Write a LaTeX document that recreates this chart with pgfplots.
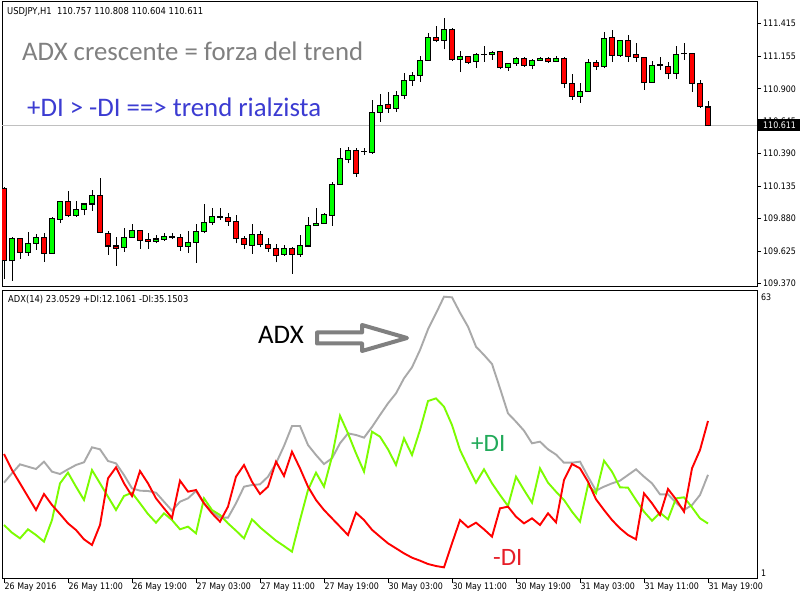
\documentclass[border=0pt]{standalone}
\usepackage{fontspec}
\setmainfont{DejaVu Sans}[FakeStretch=0.88]
\newfontfamily\calfont{Carlito}
\usepackage{pgfplots}
\usepackage{pgfplotstable}
\pgfplotsset{compat=1.18}

\definecolor{bullc}{RGB}{0,255,0}
\definecolor{bearc}{RGB}{255,0,0}
\definecolor{adxc}{RGB}{169,169,169}
\definecolor{pdic}{RGB}{124,252,0}
\definecolor{mdic}{RGB}{255,0,0}
\definecolor{pline}{RGB}{192,192,192}
\definecolor{txtgray}{RGB}{128,128,128}
\definecolor{txtblue}{RGB}{60,60,210}
\definecolor{txtgreen}{RGB}{34,170,90}
\definecolor{txtred}{RGB}{230,30,40}

\def\lbl{\fontsize{9bp}{10bp}\selectfont}
\def\hdr{\fontsize{9.5bp}{10bp}\selectfont}
\def\bigtxt{\calfont\fontsize{26.8bp}{28bp}\selectfont}

\pgfplotsset{
  candle/.style 2 args={draw=none, mark=none, error bars/.cd, y dir=plus, y explicit,
    error mark=none, error bar style={draw=#1, line width=#2}},
}

% USDJPY H1, bullish candles: bar o h l c
\pgfplotstableread{
i o h l c
1 109.548 109.734 109.393 109.726
3 109.616 109.773 109.590 109.686
4 109.686 109.760 109.634 109.734
6 109.608 109.896 109.603 109.883
7 109.875 110.018 109.844 110.016
9 109.906 110.016 109.896 109.953
10 109.953 110.006 109.906 109.995
11 109.995 110.105 109.943 110.063
15 109.655 109.804 109.621 109.734
16 109.734 109.838 109.731 109.789
19 109.702 109.749 109.686 109.720
20 109.718 109.765 109.707 109.741
21 109.734 109.765 109.720 109.736
23 109.663 109.783 109.613 109.694
24 109.694 109.836 109.535 109.781
25 109.781 109.993 109.765 109.851
26 109.851 109.967 109.830 109.898
27 109.891 109.961 109.870 109.893
31 109.671 109.836 109.603 109.757
35 109.597 109.673 109.590 109.647
37 109.597 109.749 109.582 109.671
38 109.665 109.896 109.655 109.828
39 109.825 109.961 109.825 109.844
40 109.844 109.927 109.838 109.909
41 109.904 110.171 109.823 110.150
42 110.150 110.433 110.145 110.349
43 110.347 110.441 110.315 110.412
45 110.406 110.433 110.380 110.408
46 110.399 110.812 110.388 110.716
47 110.716 110.860 110.642 110.771
49 110.747 110.883 110.721 110.849
50 110.849 111.027 110.823 110.967
51 110.967 111.032 110.925 111.006
52 111.006 111.158 110.957 111.124
53 111.124 111.336 111.124 111.305
55 111.281 111.457 111.210 111.368
57 111.129 111.197 111.030 111.155
59 111.114 111.179 111.066 111.166
60 111.171 111.237 111.114 111.173
61 111.171 111.197 111.127 111.187
63 111.066 111.106 111.040 111.101
64 111.101 111.150 111.082 111.140
66 111.085 111.132 111.053 111.124
67 111.124 111.153 111.121 111.140
69 111.114 111.155 111.111 111.137
72 110.841 110.946 110.791 110.881
73 110.881 111.135 110.878 111.108
75 111.074 111.347 111.061 111.297
77 111.163 111.284 111.148 111.276
81 110.951 111.116 110.949 111.085
82 111.085 111.148 111.046 111.087
84 111.022 111.237 110.975 111.171
85 111.174 111.260 111.127 111.176
}\bull

% bearish candles
\pgfplotstableread{
i o h l c
0 110.118 110.126 109.404 109.548
2 109.726 109.728 109.566 109.616
5 109.734 109.765 109.542 109.608
8 110.016 110.097 109.896 109.906
12 110.063 110.197 109.765 109.773
13 109.765 109.786 109.595 109.665
14 109.665 109.734 109.508 109.647
17 109.789 109.791 109.642 109.710
18 109.713 109.765 109.642 109.702
22 109.734 109.760 109.629 109.663
28 109.891 109.922 109.825 109.859
29 109.859 109.909 109.686 109.723
30 109.726 109.744 109.642 109.679
32 109.757 109.783 109.655 109.679
33 109.679 109.731 109.621 109.647
34 109.647 109.679 109.537 109.590
36 109.647 109.660 109.446 109.600
44 110.412 110.433 110.210 110.231
48 110.778 110.873 110.713 110.747
54 111.305 111.394 111.265 111.281
56 111.368 111.375 111.121 111.129
58 111.155 111.158 111.093 111.108
62 111.192 111.197 111.053 111.066
65 111.140 111.148 111.074 111.082
68 111.140 111.148 111.106 111.114
70 111.140 111.153 110.907 110.941
71 110.943 111.017 110.815 110.841
74 111.108 111.127 111.051 111.077
76 111.305 111.362 111.114 111.163
78 111.281 111.323 111.114 111.155
79 111.166 111.263 111.111 111.148
80 111.148 111.153 110.891 110.951
83 111.077 111.111 110.975 111.017
86 111.174 111.176 110.875 110.943
87 110.943 110.970 110.752 110.760
88 110.757 110.808 110.604 110.611
}\bear

% ADX(14), +DI, -DI
\pgfplotstableread{
i adx pdi mdi
0 21.29 11.78 27.73
1 23.39 10.06 24.13
2 25.41 8.78 21.14
3 24.88 10.81 18.14
4 24.36 9.53 15.15
5 26.01 8.04 18.74
6 23.76 12.90 16.27
7 23.24 21.14 14.25
8 24.29 23.54 12.15
9 25.26 20.39 10.66
10 25.86 17.40 8.56
11 29.23 24.13 7.29
12 28.78 21.14 11.78
13 26.16 18.14 22.26
14 25.63 15.15 24.73
15 23.01 18.29 21.14
16 20.02 19.04 18.29
17 19.49 16.65 23.91
18 19.42 14.25 21.14
19 19.04 12.30 17.77
20 17.02 14.40 15.52
21 15.00 12.90 13.35
22 17.02 10.81 21.74
23 17.77 11.41 19.27
24 19.42 9.91 19.64
25 16.65 17.77 16.65
26 14.77 15.15 14.40
27 13.43 14.03 12.53
28 13.43 12.15 15.90
29 16.65 10.51 22.64
30 20.39 8.78 25.26
31 20.77 13.05 21.51
32 20.92 11.26 18.74
33 22.64 9.76 20.39
34 25.63 8.26 26.01
35 29.53 7.06 22.79
36 34.02 5.79 28.25
37 34.02 12.90 24.51
38 29.75 19.64 20.39
39 27.50 23.54 17.40
40 25.48 20.39 15.15
41 26.76 27.13 13.28
42 30.13 36.34 11.41
43 32.37 32.37 9.53
44 32.00 27.88 14.55
45 31.40 23.76 12.90
46 33.80 32.75 10.70
47 36.49 31.62 9.16
48 39.11 28.78 7.66
49 41.36 25.26 6.54
50 44.73 31.25 5.41
51 47.20 27.50 4.44
52 51.09 33.12 3.77
53 55.73 39.63 3.02
54 59.33 40.23 2.57
55 63.07 38.36 2.27
56 62.92 34.24 7.66
57 59.48 28.63 12.90
58 56.33 24.88 11.26
59 51.84 21.29 12.30
60 49.97 24.29 10.81
61 47.95 21.14 9.16
62 42.48 18.52 15.52
63 36.86 16.05 15.90
64 34.99 22.64 13.65
65 32.97 19.64 12.15
66 30.13 16.80 13.28
67 30.50 24.51 11.78
68 28.78 21.29 14.40
69 27.60 19.27 12.38
70 25.78 17.40 21.89
71 25.78 14.77 25.48
72 26.01 12.53 24.51
73 22.64 20.77 21.51
74 19.49 18.89 17.55
75 20.39 26.23 15.15
76 21.14 23.76 12.90
77 21.74 20.24 11.03
78 23.01 20.17 9.53
79 24.29 17.40 8.56
80 22.64 14.77 18.89
81 21.14 12.75 16.65
82 18.67 14.55 14.03
83 18.67 13.05 19.87
84 16.80 17.77 17.55
85 15.15 18.00 14.77
86 16.27 15.75 24.51
87 18.52 13.28 28.63
88 23.05 12.11 35.15
}\ind

\begin{document}
\begin{tikzpicture}[x=1bp,y=1bp]
\fill[white] (0,0) rectangle (800,600);

% price pane
\begin{axis}[
  at={(2bp,313bp)}, anchor=south west,
  scale only axis, width=755bp, height=285bp,
  xmin=-0.25, xmax=94.125, ymin=109.343, ymax=111.582,
  axis line style={black, line width=1bp},
  xtick=\empty,
  ytick={109.370,109.625,109.880,110.135,110.390,110.645,110.900,111.155,111.415},
  yticklabels={109.370,109.625,109.880,110.135,110.390,110.645,110.900,111.155,111.415},
  ytick pos=right, yticklabel pos=right,
  tick align=outside, major tick length=4bp,
  tick style={black, line width=1bp},
  yticklabel style={font=\lbl, anchor=west, inner sep=0pt, xshift=2bp},
]
\addplot[pline, line width=1bp, mark=none] coordinates {(-0.25,110.611) (94.125,110.611)};

\addplot[candle={black}{1bp}] table[x=i, y=l, y error expr=\thisrow{h}-\thisrow{l}] {\bull};
\addplot[candle={black}{1bp}] table[x=i, y=l, y error expr=\thisrow{h}-\thisrow{l}] {\bear};
\addplot[candle={black}{6bp}] table[x=i, y expr=\thisrow{o}-0.004, y error expr=\thisrow{c}-\thisrow{o}+0.008] {\bull};
\addplot[candle={bullc}{4bp}] table[x=i, y expr=\thisrow{o}+0.004, y error expr={max(\thisrow{c}-\thisrow{o}-0.008,0)}] {\bull};
\addplot[candle={black}{6bp}] table[x=i, y expr=\thisrow{c}-0.004, y error expr=\thisrow{o}-\thisrow{c}+0.008] {\bear};
\addplot[candle={bearc}{4bp}] table[x=i, y expr=\thisrow{c}+0.004, y error expr={max(\thisrow{o}-\thisrow{c}-0.008,0)}] {\bear};
\end{axis}

% ADX pane
\begin{axis}[
  at={(2bp,21.5bp)}, anchor=south west,
  scale only axis, width=755bp, height=288bp,
  xmin=-0.25, xmax=94.125, ymin=-0.236, ymax=64.46,
  axis line style={black, line width=1bp},
  ytick=\empty,
  xtick={0,8,...,88},
  xticklabels={26 May 2016,26 May 11:00,26 May 19:00,27 May 03:00,27 May 11:00,27 May 19:00,30 May 03:00,30 May 11:00,30 May 19:00,31 May 03:00,31 May 11:00,31 May 19:00},
  xtick pos=bottom,
  tick align=outside, major tick length=4.5bp,
  tick style={black, line width=1bp},
  xticklabel style={font=\lbl, anchor=north west, inner sep=0pt, xshift=0.5bp},
]
\addplot[adxc, line width=1.9bp, mark=none] table[x=i, y=adx] {\ind};
\addplot[pdic, line width=1.9bp, mark=none] table[x=i, y=pdi] {\ind};
\addplot[mdic, line width=1.9bp, mark=none] table[x=i, y=mdi] {\ind};
\end{axis}

% price marker
\fill[black] (758,469) rectangle (800,481);
\node[anchor=west, inner sep=0pt, text=white, font=\lbl] at (763,475) {110.611};

% pane headers and scale labels
\node[anchor=west, inner sep=0pt, font=\hdr] at (7,588) {USDJPY,H1\ \ 110.757 110.808 110.604 110.611};
\node[anchor=west, inner sep=0pt, font=\hdr] at (8,300.5) {ADX(14) 23.0529 +DI:12.1061 -DI:35.1503};
\node[anchor=west, inner sep=0pt, font=\lbl] at (761,303) {63};
\node[anchor=west, inner sep=0pt, font=\lbl] at (761,27) {1};

% annotations
\node[anchor=base west, inner sep=0pt, text=txtgray, font=\bigtxt] at (22,539) {ADX crescente = forza del trend};
\node[anchor=base west, inner sep=0pt, text=txtblue, font=\bigtxt] at (27,483) {+DI > -DI ==> trend rialzista};
\node[anchor=base west, inner sep=0pt, text=black, font=\bigtxt] at (258,256) {ADX};
\node[anchor=base west, inner sep=0pt, text=txtgreen, font=\calfont\fontsize{25bp}{26bp}\selectfont] at (471,148) {+DI};
\node[anchor=base west, inner sep=0pt, text=txtred, font=\calfont\fontsize{25bp}{26bp}\selectfont] at (493,34) {-DI};
\draw[txtgray, line width=4bp, line join=round]
  (317,267.5) -- (362,267.5) -- (362,275) -- (407,262) -- (362,249) -- (362,256.5) -- (317,256.5) -- cycle;
\end{tikzpicture}
\end{document}
